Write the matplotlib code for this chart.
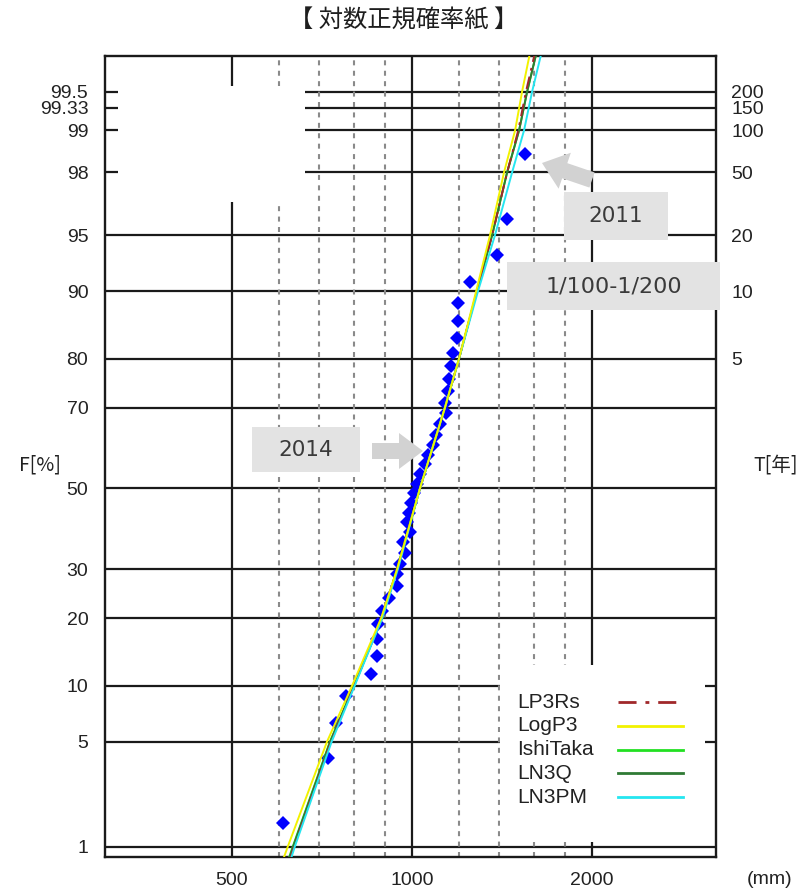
from statistics import NormalDist

import matplotlib

matplotlib.use("Agg")

import matplotlib.lines as mlines
import matplotlib.patches as mpatches
import matplotlib.pyplot as plt
import matplotlib.transforms as mtransforms
import numpy as np

# probability ticks (non-exceedance %, left) and return periods (right)
f_ticks = [1, 5, 10, 20, 30, 50, 70, 80, 90, 95, 98, 99, 99.33, 99.5]
f_labels = ["1", "5", "10", "20", "30", "50", "70", "80", "90", "95", "98", "99", "99.33", "99.5"]
t_ticks = [80, 90, 95, 98, 99, 99.33, 99.5]
t_labels = ["5", "10", "20", "50", "100", "150", "200"]
x_major = [500, 1000, 2000]
x_minor = [600, 700, 800, 900, 1200, 1400, 1600, 1800]

# observed annual maxima (mm) and their plotting positions (%)
obs_mm = [1545, 1442, 1387, 1250, 1194, 1194, 1190, 1171, 1162, 1153,
          1148, 1135, 1140, 1114, 1097, 1084, 1064, 1051, 1031, 1019,
          1008, 996, 988, 981, 992, 966, 973, 955, 944, 944,
          915, 891, 877, 874, 874, 854, 775, 746, 724, 608]
obs_pct = [98.5, 96.0, 93.5, 91.0, 88.6, 86.1, 83.6, 81.1, 78.6, 76.1,
           73.6, 71.1, 68.7, 66.2, 63.7, 61.2, 58.7, 56.2, 53.7, 51.2,
           48.8, 46.3, 43.8, 41.3, 38.8, 36.3, 33.8, 31.3, 28.9, 26.4,
           23.9, 21.4, 18.9, 16.4, 13.9, 11.4, 8.9, 6.4, 4.0, 1.5]

# fitted distributions: quantile (mm) at each non-exceedance level
fit_pct = [0.5, 1, 5, 10, 20, 30, 50, 70, 80, 90, 95, 98, 99, 99.5, 99.9]
lp3rs = [606, 635, 732, 800, 891, 944, 1031, 1135, 1198, 1284, 1361, 1442, 1505, 1550, 1663]
logp3 = [588, 620, 721, 794, 888, 944, 1031, 1135, 1198, 1280, 1350, 1425, 1487, 1527, 1625]
ishitaka = [601, 632, 729, 800, 891, 944, 1031, 1135, 1198, 1284, 1361, 1442, 1510, 1557, 1675]
ln3q = [603, 633, 730, 800, 891, 944, 1031, 1135, 1198, 1284, 1361, 1442, 1510, 1557, 1675]
ln3pm = [608, 637, 734, 802, 892, 947, 1031, 1135, 1198, 1289, 1376, 1470, 1539, 1587, 1708]

W, H, DPI = 808, 894, 100
_nd = NormalDist()


def pct_to_z(p):
    p = np.asarray(p, dtype=float) / 100.0
    p = np.where(np.isfinite(p), p, 0.5)
    p = np.clip(p, 1e-12, 1 - 1e-12)
    return np.vectorize(_nd.inv_cdf, otypes=[float])(p)


def z_to_pct(z):
    z = np.asarray(z, dtype=float)
    z = np.where(np.isfinite(z), z, 0.0)
    return 100.0 * np.vectorize(_nd.cdf, otypes=[float])(z)


plt.rcParams["font.family"] = ["Liberation Sans", "DejaVu Sans"]
fig = plt.figure(figsize=(W / DPI, H / DPI), dpi=DPI)
ax = fig.add_axes([105 / W, 37 / H, 611 / W, 801 / H])
# image-pixel coordinates (origin top-left) for decorations
px = mtransforms.Affine2D().scale(1 / DPI, -1 / DPI).translate(0, H / DPI) + fig.dpi_scale_trans

ax.set_xscale("log")
ax.set_yscale("function", functions=(pct_to_z, z_to_pct))
ax.set_xlim(307, 3220)
ax.set_ylim(0.836, 99.751)

grid_kw = dict(color="#1a1a1a", lw=1.6, zorder=1)
for v in f_ticks:
    ax.axhline(v, **grid_kw)
for v in x_major:
    ax.axvline(v, **grid_kw)
for v in x_minor:
    ax.axvline(v, color="#8a8a8a", lw=1.5, ls=(0, (2.4, 2.6)), zorder=1)

ax.plot(obs_mm, obs_pct, "D", color="#0000ff", ms=7.4, mew=0, zorder=3)

fits = [
    ("LP3Rs", lp3rs, "#a0282a", (0, (6.5, 3.2, 1.4, 3.2))),
    ("LogP3", logp3, "#f2f200", "-"),
    ("IshiTaka", ishitaka, "#22e022", "-"),
    ("LN3Q", ln3q, "#2f7a34", "-"),
    ("LN3PM", ln3pm, "#25e6f0", "-"),
]
draw_order = ["IshiTaka", "LN3Q", "LP3Rs", "LN3PM", "LogP3"]
for name in draw_order:
    _, vals, col, ls = next(f for f in fits if f[0] == name)
    ax.plot(vals, fit_pct, color=col, lw=1.4, ls=ls, zorder=4)

ax.set_xticks(x_major, labels=[str(v) for v in x_major])
ax.set_xticks([], minor=True)
ax.set_yticks(f_ticks, labels=f_labels)
ax.set_yticks([], minor=True)
ax.tick_params(axis="x", length=0, pad=11, labelsize=14, labelcolor="#222222")
ax.tick_params(axis="y", length=0, pad=12, labelsize=14, labelcolor="#222222")
for sp in ax.spines.values():
    sp.set_linewidth(1.7)
    sp.set_color("#1a1a1a")

ax2 = ax.twinx()
ax2.set_yscale("function", functions=(pct_to_z, z_to_pct))
ax2.set_ylim(ax.get_ylim())
ax2.set_yticks(t_ticks, labels=t_labels)
ax2.set_yticks([], minor=True)
ax2.tick_params(axis="y", length=0, pad=11, labelsize=14, labelcolor="#222222")
for sp in ax2.spines.values():
    sp.set_visible(False)

# blanked block in the upper-left and the legend background
fig.add_artist(mpatches.Rectangle((118, 86), 187, 116, transform=px,
                                  facecolor="white", edgecolor="none", zorder=1))
fig.add_artist(mpatches.Rectangle((500, 665), 205, 177, transform=px,
                                  facecolor="white", edgecolor="none", zorder=1))

for i, (name, _, col, ls) in enumerate(fits):
    y = 702 + i * 23.8
    fig.text(517, y, name, transform=px, fontsize=15, color="#222222",
             va="center", ha="left", zorder=2)
    fig.add_artist(mlines.Line2D([618, 683], [y, y], transform=px, color=col,
                                 lw=2.0, ls=ls, zorder=2))

# callouts
box_col, arrow_col = "#e3e3e3", "#d2d2d2"
for (x0, y0, w, h, txt, fs) in [(564, 192, 104, 48, "2011", 15.5),
                                (507, 262, 213, 48, "1/100-1/200", 16),
                                (252, 427, 108, 45, "2014", 15.5)]:
    fig.add_artist(mpatches.Rectangle((x0, y0), w, h, transform=px,
                                      facecolor=box_col, edgecolor="none", zorder=2))
    fig.text(x0 + w / 2, y0 + h / 2, txt, transform=px, fontsize=fs,
             family="DejaVu Sans", color="#3a3a3a", ha="center", va="center", zorder=3)

fig.add_artist(mpatches.FancyArrow(592, 180, -50, -17, width=16, head_width=38,
                                   head_length=24, length_includes_head=True,
                                   transform=px, color=arrow_col, lw=0, zorder=2))
fig.add_artist(mpatches.FancyArrow(372, 451, 51, 0, width=16, head_width=36,
                                   head_length=24, length_includes_head=True,
                                   transform=px, color=arrow_col, lw=0, zorder=2))

cjk = ["Noto Sans CJK JP", "DejaVu Sans"]
fig.text(404, 20, "【 対数正規確率紙 】", transform=px, family=cjk, fontsize=17.5,
         color="#1e1e1e", ha="center", va="center")
fig.text(40, 465, "F[%]", transform=px, family=cjk, fontsize=14,
         color="#222222", ha="center", va="center")
fig.text(776, 465, "T[年]", transform=px, family=cjk, fontsize=14,
         color="#222222", ha="center", va="center")
fig.text(770, 880, "(mm)", transform=px, fontsize=14,
         color="#222222", ha="center", va="center")

fig.savefig("out.png", dpi=DPI)
